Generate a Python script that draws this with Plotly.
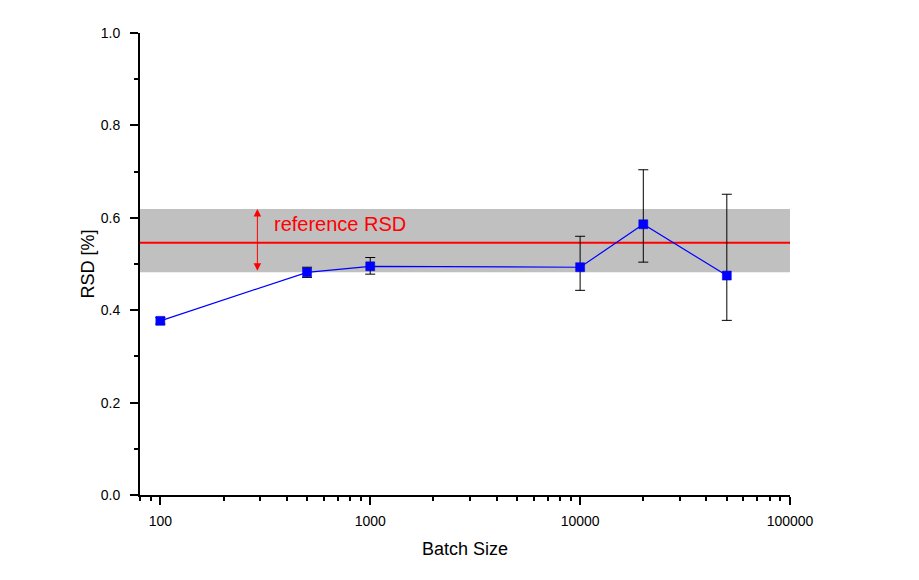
import plotly.graph_objects as go
import math

# Data
batch_size = [100, 500, 1000, 10000, 20000, 50000]
rsd = [0.377, 0.482, 0.495, 0.493, 0.586, 0.475]
err_plus = [0.007, 0.011, 0.019, 0.067, 0.118, 0.176]
err_minus = [0.007, 0.011, 0.017, 0.050, 0.082, 0.097]

ref_rsd = 0.546
band_low = 0.482
band_high = 0.619
arrow_x = 290
label_x = 340
label_y = 0.587
label_text = "reference RSD"

x_tickvals = [100, 1000, 10000, 100000]
x_ticktext = ["100", "1000", "10000", "100000"]
y_tickvals = [0.0, 0.2, 0.4, 0.6, 0.8, 1.0]

FONT = "Liberation Sans, Arial, sans-serif"

fig = go.Figure()

fig.add_trace(go.Scatter(
    x=batch_size, y=rsd,
    mode="lines+markers",
    line=dict(color="#0000FF", width=1.2),
    marker=dict(symbol="square", size=9, color="#0000FF",
                line=dict(color="#0000CC", width=0.5)),
    error_y=dict(type="data", symmetric=False, array=err_plus, arrayminus=err_minus,
                 color="black", thickness=1, width=5),
    showlegend=False,
))

# Gray band and reference line
fig.add_shape(type="rect", xref="paper", yref="y", x0=0, x1=1, y0=band_low, y1=band_high,
              fillcolor="#C0C0C0", line=dict(width=0), layer="below")
fig.add_shape(type="line", xref="paper", yref="y", x0=0, x1=1, y0=ref_rsd, y1=ref_rsd,
              line=dict(color="#FF0000", width=2), layer="below")

# Double-headed arrow
fig.add_annotation(
    x=math.log10(arrow_x), y=band_high, xref="x", yref="y",
    ax=math.log10(arrow_x), ay=band_low, axref="x", ayref="y",
    text="", showarrow=True, arrowside="end+start",
    arrowhead=2, startarrowhead=2, arrowsize=1.5, startarrowsize=1.5,
    arrowwidth=1, arrowcolor="#FF0000", standoff=0, startstandoff=0,
)
fig.add_annotation(
    x=math.log10(label_x), y=label_y, xref="x", yref="y",
    text=label_text, showarrow=False, xanchor="left", yanchor="middle",
    font=dict(family=FONT, size=20, color="#FF0000"),
)

fig.update_layout(
    width=919, height=580,
    margin=dict(l=132, r=137, t=25, b=93),
    paper_bgcolor="white", plot_bgcolor="white",
    font=dict(family=FONT, size=14, color="black"),
    xaxis=dict(
        type="log", range=[math.log10(80), 5],
        tickvals=x_tickvals, ticktext=x_ticktext,
        ticks="outside", ticklen=8, tickwidth=1.5, tickcolor="black",
        ticklabelstandoff=4,
        showline=True, linecolor="black", linewidth=2, mirror=False,
        showgrid=False, zeroline=False,
        minor=dict(ticks="outside", ticklen=4, tickwidth=1.5, tickcolor="black",
                   dtick="D1", showgrid=False),
        title=dict(text="Batch Size", font=dict(family=FONT, size=18), standoff=15),
        tickfont=dict(family=FONT, size=14),
    ),
    yaxis=dict(
        range=[0, 1.0],
        tickvals=y_tickvals, tickformat=".1f",
        ticks="outside", ticklen=8, tickwidth=1.5, tickcolor="black",
        ticklabelstandoff=7,
        showline=True, linecolor="black", linewidth=2, mirror=False,
        showgrid=False, zeroline=False,
        minor=dict(ticks="outside", ticklen=4, tickwidth=1.5, tickcolor="black",
                   dtick=0.1, showgrid=False),
        title=dict(text="RSD [%]", font=dict(family=FONT, size=18), standoff=1),
        tickfont=dict(family=FONT, size=14),
    ),
)

fig.write_html("out.html")
